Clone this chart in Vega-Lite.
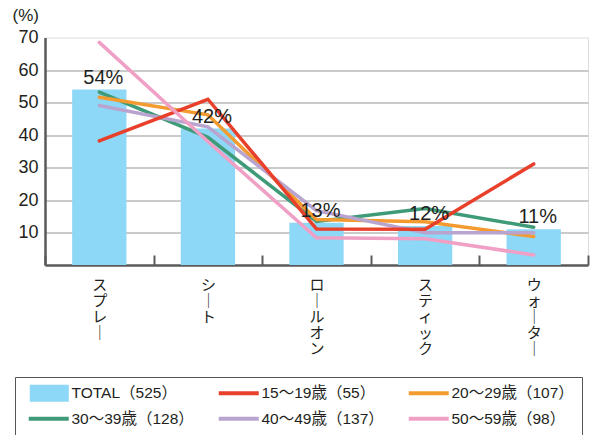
{
  "$schema": "https://vega.github.io/schema/vega-lite/v6.json",
  "width": 543,
  "height": 227.5,
  "autosize": "none",
  "padding": {"left": 45, "top": 37.5, "right": 3, "bottom": 170},
  "background": "white",
  "data": {
    "values": [
      {"cat": "スプレー", "series": "TOTAL（525）", "value": 54, "pct": "54%"},
      {"cat": "シート", "series": "TOTAL（525）", "value": 42, "pct": "42%"},
      {"cat": "ロールオン", "series": "TOTAL（525）", "value": 13, "pct": "13%"},
      {"cat": "スティック", "series": "TOTAL（525）", "value": 12, "pct": "12%"},
      {"cat": "ウォーター", "series": "TOTAL（525）", "value": 11, "pct": "11%"},
      {"cat": "スプレー", "series": "30〜39歳（128）", "value": 53.2},
      {"cat": "シート", "series": "30〜39歳（128）", "value": 39.3},
      {"cat": "ロールオン", "series": "30〜39歳（128）", "value": 13.4},
      {"cat": "スティック", "series": "30〜39歳（128）", "value": 17.4},
      {"cat": "ウォーター", "series": "30〜39歳（128）", "value": 11.6},
      {"cat": "スプレー", "series": "20〜29歳（107）", "value": 51.6},
      {"cat": "シート", "series": "20〜29歳（107）", "value": 46.2},
      {"cat": "ロールオン", "series": "20〜29歳（107）", "value": 14},
      {"cat": "スティック", "series": "20〜29歳（107）", "value": 13.3},
      {"cat": "ウォーター", "series": "20〜29歳（107）", "value": 8.8},
      {"cat": "スプレー", "series": "40〜49歳（137）", "value": 49.1},
      {"cat": "シート", "series": "40〜49歳（137）", "value": 42.5},
      {"cat": "ロールオン", "series": "40〜49歳（137）", "value": 16.7},
      {"cat": "スティック", "series": "40〜49歳（137）", "value": 9.9},
      {"cat": "ウォーター", "series": "40〜49歳（137）", "value": 9.9},
      {"cat": "スプレー", "series": "15〜19歳（55）", "value": 38.2},
      {"cat": "シート", "series": "15〜19歳（55）", "value": 51},
      {"cat": "ロールオン", "series": "15〜19歳（55）", "value": 11.1},
      {"cat": "スティック", "series": "15〜19歳（55）", "value": 11},
      {"cat": "ウォーター", "series": "15〜19歳（55）", "value": 31.1},
      {"cat": "スプレー", "series": "50〜59歳（98）", "value": 68.5},
      {"cat": "シート", "series": "50〜59歳（98）", "value": 38},
      {"cat": "ロールオン", "series": "50〜59歳（98）", "value": 8.4},
      {"cat": "スティック", "series": "50〜59歳（98）", "value": 8.1},
      {"cat": "ウォーター", "series": "50〜59歳（98）", "value": 3.1}
    ]
  },
  "encoding": {
    "x": {
      "field": "cat",
      "type": "nominal",
      "sort": null,
      "scale": {"paddingInner": 0, "paddingOuter": 0},
      "axis": {
        "title": null,
        "labelAngle": 0,
        "tickBand": "extent",
        "tickSize": -10,
        "tickWidth": 2,
        "tickColor": "#5a5a5a",
        "domainColor": "#5a5a5a",
        "domainWidth": 2.5,
        "labelPadding": 22,
        "labelBaseline": "top",
        "labelFont": "Noto Sans CJK JP",
        "labelFontSize": 15,
        "labelLineHeight": 16,
        "labelColor": "#231f20",
        "labelExpr": "split(replace(datum.label, regexp('ー', 'g'), '｜'), '')"
      }
    },
    "y": {
      "field": "value",
      "type": "quantitative",
      "scale": {"domain": [0, 70], "nice": false},
      "axis": {
        "values": [10, 20, 30, 40, 50, 60, 70],
        "title": "(%)",
        "titleAngle": 0,
        "titleX": -33,
        "titleY": -22,
        "titleAlign": "left",
        "titleBaseline": "middle",
        "titleFont": "Liberation Sans",
        "titleFontSize": 17,
        "titleFontWeight": "normal",
        "titleColor": "#231f20",
        "labelFont": "Liberation Sans",
        "labelFontSize": 18,
        "labelPadding": 7,
        "labelColor": "#231f20",
        "ticks": false,
        "domainColor": "#5a5a5a",
        "domainWidth": 2.5,
        "gridColor": {"condition": {"test": "datum.value === 70", "value": "transparent"}, "value": "#b8b8b8"},
        "gridWidth": 1.5
      }
    }
  },
  "layer": [
    {
      "transform": [{"filter": "datum.series === 'TOTAL（525）'"}],
      "mark": {"type": "bar", "width": {"band": 0.5}},
      "encoding": {
        "color": {"field": "series", "type": "nominal", "sort": null}
      }
    },
    {
      "transform": [{"filter": "datum.series !== 'TOTAL（525）'"}],
      "mark": {"type": "line", "strokeWidth": 3.5, "strokeCap": "round"},
      "encoding": {
        "color": {
          "field": "series",
          "type": "nominal",
          "sort": null,
          "scale": {
            "domain": ["TOTAL（525）", "15〜19歳（55）", "20〜29歳（107）", "30〜39歳（128）", "40〜49歳（137）", "50〜59歳（98）"],
            "range": ["#8dd7f7", "#e8402b", "#f39b30", "#3f9a78", "#b9a4d0", "#f0a0c5"]
          },
          "legend": {
            "title": null,
            "orient": "none",
            "direction": "horizontal",
            "legendX": -30,
            "legendY": 339.5,
            "columns": 3,
            "gridAlign": "all",
            "symbolType": "stroke",
            "symbolSize": 400,
            "symbolStrokeWidth": 4,
            "labelFont": "Liberation Sans, Noto Sans CJK JP",
            "labelFontSize": 15.5,
            "labelColor": "#231f20",
            "labelOffset": 33,
            "columnPadding": 16,
            "rowPadding": 8,
            "padding": 8,
            "strokeColor": "#555555",
            "encode": {
              "symbols": {
                "update": {
                  "shape": {"signal": "datum.value === 'TOTAL（525）' ? 'M-0.1,-0.85H3.8V0.85H-0.1Z' : 'M-0.2,0H3.8'"},
                  "fill": {"signal": "datum.value === 'TOTAL（525）' ? '#8dd7f7' : 'transparent'"},
                  "stroke": {"scale": "color", "field": "value"},
                  "strokeWidth": {"signal": "datum.value === 'TOTAL（525）' ? 0 : 4"},
                  "opacity": {"value": 1}
                }
              }
            }
          }
        }
      }
    },
    {
      "transform": [{"filter": "datum.series === 'TOTAL（525）'"}],
      "mark": {"type": "text", "font": "Liberation Sans", "fontSize": 20, "baseline": "alphabetic", "dy": -6, "dx": 4, "color": "#231f20"},
      "encoding": {
        "text": {"field": "pct"}
      }
    }
  ]
}
